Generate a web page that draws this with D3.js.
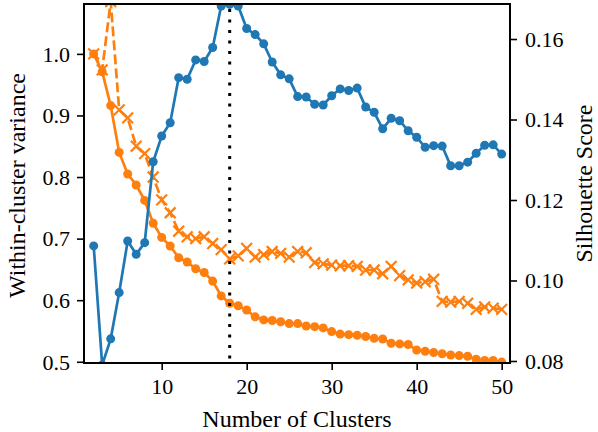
<!DOCTYPE html>
<html>
<head>
<meta charset="utf-8">
<script src="https://cdn.jsdelivr.net/npm/d3@7"></script>
<style>
  html, body { margin: 0; padding: 0; background: #fff; }
  svg { display: block; }
</style>
</head>
<body>
<svg id="chart" width="598" height="432"></svg>
<script>
// Number of clusters evaluated
const clusters = [2, 3, 4, 5, 6, 7, 8, 9, 10, 11, 12, 13, 14, 15, 16, 17, 18, 19, 20,
  21, 22, 23, 24, 25, 26, 27, 28, 29, 30, 31, 32, 33, 34, 35, 36, 37, 38, 39, 40,
  41, 42, 43, 44, 45, 46, 47, 48, 49, 50];

// Within-cluster variance (circle markers, solid line)
const varianceSolid = [1.000, 0.971, 0.916, 0.840, 0.805, 0.787, 0.762, 0.725, 0.702,
  0.688, 0.669, 0.662, 0.651, 0.645, 0.631, 0.607, 0.595, 0.591, 0.584,
  0.573, 0.568, 0.567, 0.565, 0.562, 0.562, 0.558, 0.557, 0.555, 0.549,
  0.545, 0.544, 0.543, 0.541, 0.538, 0.537, 0.530, 0.529, 0.528, 0.519,
  0.517, 0.515, 0.513, 0.511, 0.510, 0.509, 0.504, 0.502, 0.502, 0.4995];

// Within-cluster variance (cross markers, dashed line)
const varianceDashed = [1.000, 0.974, 1.085, 0.909, 0.896, 0.850, 0.838, 0.800, 0.763,
  0.742, 0.712, 0.703, 0.700, 0.703, 0.692, 0.682, 0.667, 0.672, 0.684,
  0.670, 0.674, 0.679, 0.676, 0.670, 0.679, 0.677, 0.661, 0.659, 0.657,
  0.656, 0.656, 0.655, 0.649, 0.649, 0.643, 0.655, 0.640, 0.633, 0.628,
  0.630, 0.634, 0.598, 0.597, 0.598, 0.595, 0.585, 0.589, 0.587, 0.585];

// Silhouette score (right axis)
const silhouette = [0.1086, 0.0790, 0.0855, 0.0970, 0.1098, 0.1065, 0.1094, 0.1295, 0.1359,
  0.1392, 0.1504, 0.1500, 0.1548, 0.1544, 0.1579, 0.1682, 0.1686, 0.1682, 0.1626,
  0.1611, 0.1588, 0.1543, 0.1511, 0.1501, 0.1457, 0.1456, 0.1438, 0.1436, 0.1459,
  0.1476, 0.1472, 0.1478, 0.1431, 0.1418, 0.1377, 0.1403, 0.1397, 0.1372, 0.1356,
  0.1331, 0.1335, 0.1334, 0.1285, 0.1285, 0.1294, 0.1316, 0.1336, 0.1337, 0.1314];

const chosenK = 18;

const xTicks = [10, 20, 30, 40, 50];
const leftTicks = [0.5, 0.6, 0.7, 0.8, 0.9, 1.0];
const rightTicks = [0.08, 0.10, 0.12, 0.14, 0.16];

const xLabel = "Number of Clusters";
const leftLabel = "Within-cluster variance";
const rightLabel = "Silhouette Score";

const BLUE = "#1f77b4";
const ORANGE = "#ff7f0e";
const FONT = "'Liberation Serif', 'Times New Roman', serif";

const svg = d3.select("#chart");
const plot = { left: 84, right: 510, top: 4, bottom: 363 };

const x = d3.scaleLinear().domain([0.86, 50.98]).range([plot.left, plot.right]);
const yL = d3.scaleLinear().domain([0.498, 1.081]).range([plot.bottom, plot.top]);
const yR = d3.scaleLinear().domain([0.0795, 0.1687]).range([plot.bottom, plot.top]);

svg.append("defs").append("clipPath").attr("id", "plotClip")
  .append("rect")
  .attr("x", plot.left).attr("y", plot.top)
  .attr("width", plot.right - plot.left).attr("height", plot.bottom - plot.top);

const layer = svg.append("g").attr("clip-path", "url(#plotClip)");

// dashed variance with crosses
const dashedPts = clusters.map((k, i) => [k, varianceDashed[i]]);
layer.append("path")
  .datum(dashedPts)
  .attr("fill", "none")
  .attr("stroke", ORANGE)
  .attr("stroke-width", 2.7)
  .attr("stroke-dasharray", "10,4")
  .attr("d", d3.line().x(d => x(d[0])).y(d => yL(d[1])));

const cross = 5.4;
layer.append("g").selectAll("path")
  .data(dashedPts)
  .join("path")
  .attr("fill", "none")
  .attr("stroke", ORANGE)
  .attr("stroke-width", 2.2)
  .attr("d", d => {
    const cx = x(d[0]), cy = yL(d[1]);
    return `M${cx - cross},${cy - cross}L${cx + cross},${cy + cross}M${cx - cross},${cy + cross}L${cx + cross},${cy - cross}`;
  });

// solid variance with circles
const solidPts = clusters.map((k, i) => [k, varianceSolid[i]]);
layer.append("path")
  .datum(solidPts)
  .attr("fill", "none")
  .attr("stroke", ORANGE)
  .attr("stroke-width", 2.7)
  .attr("d", d3.line().x(d => x(d[0])).y(d => yL(d[1])));
layer.append("g").selectAll("circle")
  .data(solidPts)
  .join("circle")
  .attr("cx", d => x(d[0]))
  .attr("cy", d => yL(d[1]))
  .attr("r", 4.5)
  .attr("fill", ORANGE);

// silhouette score on the twin axis
const silPts = clusters.map((k, i) => [k, silhouette[i]]);
layer.append("path")
  .datum(silPts)
  .attr("fill", "none")
  .attr("stroke", BLUE)
  .attr("stroke-width", 2.7)
  .attr("d", d3.line().x(d => x(d[0])).y(d => yR(d[1])));
layer.append("g").selectAll("circle")
  .data(silPts)
  .join("circle")
  .attr("cx", d => x(d[0]))
  .attr("cy", d => yR(d[1]))
  .attr("r", 4.5)
  .attr("fill", BLUE);

// chosen number of clusters
svg.append("line")
  .attr("x1", x(chosenK)).attr("x2", x(chosenK))
  .attr("y1", plot.top).attr("y2", plot.bottom)
  .attr("stroke", "#000")
  .attr("stroke-width", 3)
  .attr("stroke-dasharray", "3,7.5")
  .attr("stroke-dashoffset", -5);

// axes
const tickFont = 22;
const xAxis = d3.axisBottom(x).tickValues(xTicks).tickFormat(d3.format("d")).tickSize(7).tickPadding(7);
const gx = svg.append("g").attr("transform", `translate(0,${plot.bottom})`).call(xAxis);

const yAxisL = d3.axisLeft(yL).tickValues(leftTicks).tickFormat(d3.format(".1f")).tickSize(7).tickPadding(7);
const gl = svg.append("g").attr("transform", `translate(${plot.left},0)`).call(yAxisL);

const yAxisR = d3.axisRight(yR).tickValues(rightTicks).tickFormat(d3.format(".2f")).tickSize(7).tickPadding(8);
const gr = svg.append("g").attr("transform", `translate(${plot.right},0)`).call(yAxisR);

[gx, gl, gr].forEach(g => {
  g.attr("font-family", null).attr("font-size", null);
  g.select(".domain").remove();
  g.selectAll(".tick line").attr("stroke", "#000").attr("stroke-width", 1.6);
  g.selectAll(".tick text")
    .style("font-family", FONT)
    .style("font-size", tickFont + "px")
    .attr("fill", "#000");
});
gx.selectAll(".tick text").attr("dy", "0.75em");
gl.selectAll(".tick text").attr("dy", "0.33em");
gr.selectAll(".tick text").attr("dy", "0.33em");

// frame
svg.append("rect")
  .attr("x", plot.left).attr("y", plot.top)
  .attr("width", plot.right - plot.left).attr("height", plot.bottom - plot.top)
  .attr("fill", "none")
  .attr("stroke", "#000")
  .attr("stroke-width", 2);

// axis titles
const titleFont = "24px";
svg.append("text")
  .attr("x", (plot.left + plot.right) / 2)
  .attr("y", 427)
  .attr("text-anchor", "middle")
  .style("font-family", FONT)
  .style("font-size", titleFont)
  .text(xLabel);

svg.append("text")
  .attr("transform", `translate(25,${(plot.top + plot.bottom) / 2 + 2}) rotate(-90)`)
  .attr("text-anchor", "middle")
  .style("font-family", FONT)
  .style("font-size", titleFont)
  .text(leftLabel);

svg.append("text")
  .attr("transform", `translate(592,${(plot.top + plot.bottom) / 2}) rotate(-90)`)
  .attr("text-anchor", "middle")
  .style("font-family", FONT)
  .style("font-size", titleFont)
  .text(rightLabel);
</script>
</body>
</html>
